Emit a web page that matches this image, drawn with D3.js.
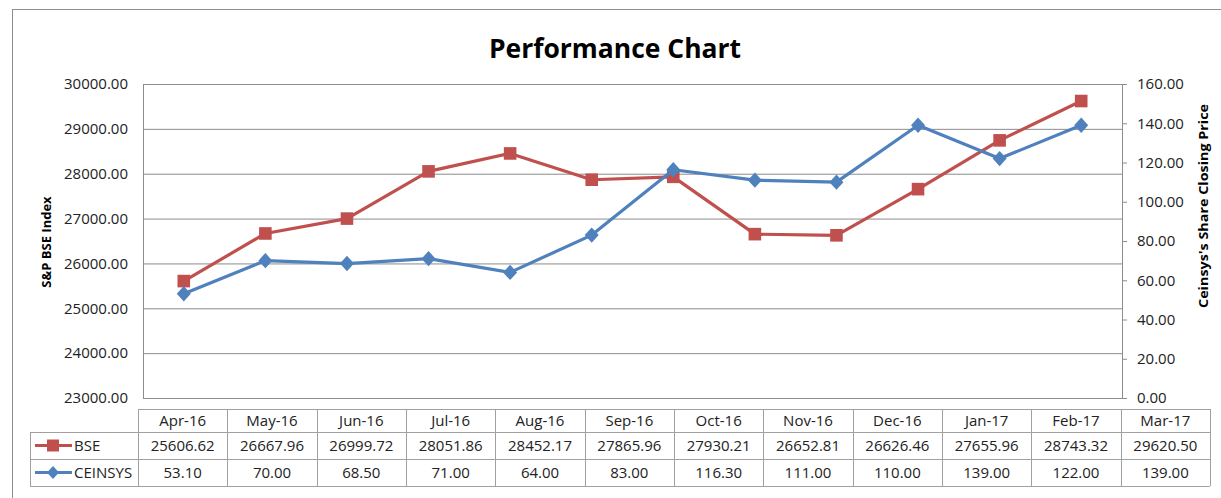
<!DOCTYPE html>
<html>
<head>
<meta charset="utf-8">
<script src="https://cdn.jsdelivr.net/npm/d3@7"></script>
<style>
    body { margin: 0; background: #fff; }
    text { font-family: "Open Sans", "DejaVu Sans", sans-serif; fill: #222; }
</style>
</head>
<body>
<div id="chart-container"></div>
<script>

var months = ["Apr-16", "May-16", "Jun-16", "Jul-16", "Aug-16", "Sep-16",
              "Oct-16", "Nov-16", "Dec-16", "Jan-17", "Feb-17", "Mar-17"];
var bseValues = [25606.62, 26667.96, 26999.72, 28051.86, 28452.17, 27865.96,
                 27930.21, 26652.81, 26626.46, 27655.96, 28743.32, 29620.50];
var ceinsysValues = [53.10, 70.00, 68.50, 71.00, 64.00, 83.00,
                     116.30, 111.00, 110.00, 139.00, 122.00, 139.00];
var leftTicks = [23000, 24000, 25000, 26000, 27000, 28000, 29000, 30000];
var rightTicks = [0, 20, 40, 60, 80, 100, 120, 140, 160];

var seriesList = [
    { name: "BSE", values: bseValues, axis: "left", color: "#C0504D", marker: "square" },
    { name: "CEINSYS", values: ceinsysValues, axis: "right", color: "#4F81BD", marker: "diamond" }
];

var width = 1221, height = 498;
var plot = { left: 143, right: 1122, top: 84, bottom: 398 };

var svg = d3.select("#chart-container")
    .append("svg")
    .attr("width", width)
    .attr("height", height);

svg.append("rect")
    .attr("width", width)
    .attr("height", height)
    .attr("fill", "#fff");

// chart area frame (cut off on the right and bottom)
svg.append("rect")
    .attr("x", 12.5)
    .attr("y", 9.5)
    .attr("width", 1260)
    .attr("height", 520)
    .attr("fill", "none")
    .attr("stroke", "#8c8c8c");

svg.append("text")
    .attr("x", 615)
    .attr("y", 58)
    .attr("text-anchor", "middle")
    .attr("textLength", 252)
    .attr("lengthAdjust", "spacingAndGlyphs")
    .style("font-size", "26px")
    .style("font-weight", "bold")
    .style("fill", "#000")
    .text("Performance Chart");

var xScale = d3.scaleBand()
    .domain(months)
    .range([plot.left, plot.right]);
var yLeft = d3.scaleLinear()
    .domain([23000, 30000])
    .range([plot.bottom, plot.top]);
var yRight = d3.scaleLinear()
    .domain([0, 160])
    .range([plot.bottom, plot.top]);

var leftAxis = d3.axisLeft(yLeft)
    .tickValues(leftTicks)
    .tickFormat(d3.format(".2f"))
    .tickSizeInner(-(plot.right - plot.left))
    .tickSizeOuter(0)
    .tickPadding(15);

var gLeft = svg.append("g")
    .attr("transform", "translate(" + plot.left + ",0)")
    .call(leftAxis);
gLeft.select(".domain").attr("stroke", "#8c8c8c");
gLeft.selectAll(".tick line").attr("stroke", "#8c8c8c");
gLeft.selectAll(".tick text")
    .style("font-size", "15px")
    .style("font-family", "'Open Sans', sans-serif");

var rightAxis = d3.axisRight(yRight)
    .tickValues(rightTicks)
    .tickFormat(d3.format(".2f"))
    .tickSizeInner(5)
    .tickSizeOuter(0)
    .tickPadding(10);

var gRight = svg.append("g")
    .attr("transform", "translate(" + plot.right + ",0)")
    .call(rightAxis);
gRight.select(".domain").attr("stroke", "#8c8c8c");
gRight.selectAll(".tick line").attr("stroke", "#8c8c8c");
gRight.selectAll(".tick text")
    .style("font-size", "15px")
    .style("font-family", "'Open Sans', sans-serif");

// plot bottom border
svg.append("line")
    .attr("x1", plot.left)
    .attr("x2", plot.right)
    .attr("y1", plot.bottom + 0.5)
    .attr("y2", plot.bottom + 0.5)
    .attr("stroke", "#8c8c8c");

svg.append("text")
    .attr("transform", "translate(46," + 242 + ") rotate(-90)")
    .attr("text-anchor", "middle")
    .attr("dy", "0.35em")
    .style("font-size", "13px")
    .style("font-weight", "bold")
    .style("fill", "#000")
    .text("S&P BSE Index");

svg.append("text")
    .attr("transform", "translate(1203," + 206 + ") rotate(-90)")
    .attr("text-anchor", "middle")
    .attr("dy", "0.35em")
    .attr("textLength", 204)
    .attr("lengthAdjust", "spacingAndGlyphs")
    .style("font-size", "13px")
    .style("font-weight", "bold")
    .style("fill", "#000")
    .text("Ceinsys's Share Closing Price");

// excel-like markers: square, and an almost-square diamond
var markerPath = function (type, half) {
    if (type === "square") {
        return "M" + (-half) + "," + (-half) + "H" + half + "V" + half + "H" + (-half) + "Z";
    }
    var hy = half * 1.1;
    return "M0," + (-hy) + "L" + half + ",0L0," + hy + "L" + (-half) + ",0Z";
};

seriesList.forEach(function (s) {
    var yScale = s.axis === "left" ? yLeft : yRight;
    var line = d3.line()
        .x(function (d, i) { return xScale(months[i]) + xScale.bandwidth() / 2; })
        .y(function (d) { return yScale(d); });

    svg.append("path")
        .datum(s.values)
        .attr("d", line)
        .attr("fill", "none")
        .attr("stroke", s.color)
        .attr("stroke-width", 3.2)
        .attr("stroke-linejoin", "round");

    svg.selectAll(".marker-" + s.name)
        .data(s.values)
        .enter()
        .append("path")
        .attr("class", "marker-" + s.name)
        .attr("transform", function (d, i) {
            return "translate(" + (xScale(months[i]) + xScale.bandwidth() / 2) + "," + yScale(d) + ")";
        })
        .attr("d", markerPath(s.marker, s.marker === "square" ? 6.3 : 7))
        .attr("fill", s.color);
});

// data table
var tableX = d3.scaleBand()
    .domain(months)
    .range([138, 1210]);
var rowY = [409, 432, 459, 486];
var headerLeft = 30;
var gridColor = "#a0a0a0";

var table = svg.append("g").attr("class", "data-table");

// horizontal lines
table.append("line")
    .attr("x1", 138).attr("x2", 1210)
    .attr("y1", rowY[0] + 0.5).attr("y2", rowY[0] + 0.5)
    .attr("stroke", gridColor);
[1, 2, 3].forEach(function (r) {
    table.append("line")
        .attr("x1", headerLeft).attr("x2", 1210)
        .attr("y1", rowY[r] + 0.5).attr("y2", rowY[r] + 0.5)
        .attr("stroke", gridColor);
});
// vertical lines
table.append("line")
    .attr("x1", headerLeft + 0.5).attr("x2", headerLeft + 0.5)
    .attr("y1", rowY[1]).attr("y2", rowY[3])
    .attr("stroke", gridColor);
months.concat(["end"]).forEach(function (m, i) {
    var x = i < months.length ? tableX(m) : tableX.range()[1];
    table.append("line")
        .attr("x1", Math.round(x) + 0.5).attr("x2", Math.round(x) + 0.5)
        .attr("y1", rowY[0]).attr("y2", rowY[3])
        .attr("stroke", gridColor);
});

table.selectAll(".month-label")
    .data(months)
    .enter()
    .append("text")
    .attr("class", "month-label")
    .attr("x", function (d) { return tableX(d) + tableX.bandwidth() / 2; })
    .attr("y", (rowY[0] + rowY[1]) / 2)
    .attr("dy", "0.35em")
    .attr("text-anchor", "middle")
    .style("font-size", "15px")
    .text(function (d) { return d; });

seriesList.forEach(function (s, r) {
    var midY = (rowY[r + 1] + rowY[r + 2]) / 2;
    table.append("line")
        .attr("x1", 35).attr("x2", 72)
        .attr("y1", midY).attr("y2", midY)
        .attr("stroke", s.color)
        .attr("stroke-width", 3.2);
    table.append("path")
        .attr("transform", "translate(53," + midY + ")")
        .attr("d", markerPath(s.marker, 6))
        .attr("fill", s.color);
    table.append("text")
        .attr("x", 74)
        .attr("y", midY)
        .attr("dy", "0.35em")
        .style("font-size", "15px")
        .text(s.name);

    table.selectAll(".cell-" + s.name)
        .data(s.values)
        .enter()
        .append("text")
        .attr("class", "cell-" + s.name)
        .attr("x", function (d, i) { return tableX(months[i]) + tableX.bandwidth() / 2; })
        .attr("y", midY)
        .attr("dy", "0.35em")
        .attr("text-anchor", "middle")
        .style("font-size", "15px")
        .text(function (d) { return d3.format(".2f")(d); });
});

</script>
</body>
</html>
